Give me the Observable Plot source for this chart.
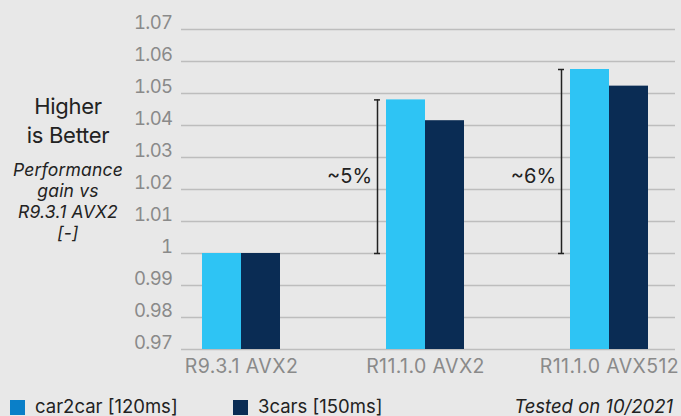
<!DOCTYPE html>
<html>
<head>
<meta charset="utf-8">
<script src="https://cdn.jsdelivr.net/npm/d3@7"></script>
<script src="https://cdn.jsdelivr.net/npm/@observablehq/plot@0.6"></script>
<style>
  html, body { margin: 0; padding: 0; background: #e8e8e8; }
  #wrap { position: relative; width: 681px; height: 416px; overflow: hidden; font-family: Inter, "Noto Sans", sans-serif; background: #e8e8e8; }
  #chart { position: absolute; left: 0; top: 0; }
  .side { position: absolute; left: 0; width: 136px; text-align: center; color: #222; white-space: nowrap; }
  .big { font-size: 22px; line-height: 29px; top: 92px; letter-spacing: -0.3px; }
  .ital { font-style: italic; font-size: 17.5px; line-height: 21px; top: 159px; letter-spacing: 0.2px; }
  .legend { position: absolute; top: 396px; font-size: 18.5px; line-height: 21px; color: #222; letter-spacing: 0px; white-space: nowrap; }
  .sw { display: inline-block; width: 15px; height: 15px; vertical-align: -2px; margin-right: 10px; }
</style>
</head>
<body>
<div id="wrap">
  <div id="chart"></div>
  <div class="side big">Higher<br>is Better</div>
  <div class="side ital">Performance<br>gain vs<br>R9.3.1 AVX2<br>[-]</div>
  <div class="legend" style="left:10px"><span class="sw" style="background:#0a7fc8"></span>car2car [120ms]</div>
  <div class="legend" style="left:233px"><span class="sw" style="background:#0a2c54"></span>3cars [150ms]</div>
  <div class="legend" style="right:8px; font-style:italic">Tested on 10/2021</div>
</div>
<script>
const categories = ["R9.3.1 AVX2", "R11.1.0 AVX2", "R11.1.0 AVX512"];
const car2car = [1.000, 1.048, 1.0575];
const cars3 = [1.000, 1.0415, 1.0523];
const yTicks = [0.97, 0.98, 0.99, 1, 1.01, 1.02, 1.03, 1.04, 1.05, 1.06, 1.07];
const gainLabels = [null, "~5%", "~6%"];
const labelY = 1.024;

const rowsA = categories.map((c, i) => ({cat: c, v: car2car[i]}));
const rowsB = categories.map((c, i) => ({cat: c, v: cars3[i]}));
const ann = categories.map((c, i) => ({cat: c, v: car2car[i], label: gainLabels[i]})).filter(d => d.label);

const chart = Plot.plot({
  width: 681,
  height: 385,
  marginLeft: 181,
  marginRight: 6,
  marginTop: 29,
  marginBottom: 36,
  style: {background: "transparent", fontFamily: "Inter, 'Noto Sans', sans-serif", overflow: "visible"},
  x: {domain: categories, range: [149, 701], padding: 0},
  y: {domain: [0.97, 1.07]},
  marks: [
    Plot.ruleY(yTicks, {stroke: "#bdbdbd", strokeWidth: 1.5}),
    Plot.barY(rowsA, {x: "cat", y1: 0.97, y2: "v", fill: "#2ec4f4", insetLeft: 53, insetRight: 92}),
    Plot.barY(rowsB, {x: "cat", y1: 0.97, y2: "v", fill: "#0a2c54", insetLeft: 92, insetRight: 53}),
    Plot.ruleX(ann, {x: "cat", y1: 1, y2: "v", stroke: "#222", strokeWidth: 1.5, dx: -48}),
    Plot.tickY(ann, {x: "cat", y: "v", stroke: "#222", strokeWidth: 1.5, insetLeft: 41, insetRight: 137}),
    Plot.tickY(ann, {x: "cat", y: 1, stroke: "#222", strokeWidth: 1.5, insetLeft: 41, insetRight: 137}),
    Plot.text(ann, {x: "cat", y: labelY, text: "label", dx: -76, fontSize: 20, fill: "#222", textAnchor: "middle"}),
    Plot.axisY(yTicks, {ticks: yTicks, tickSize: 0, tickPadding: 9, tickFormat: d => String(d), fontSize: 18.5, fill: "#8a8a8a", dy: -6, label: null}),
    Plot.axisX({tickSize: 0, tickPadding: 10, fontSize: 19.5, fill: "#8a8a8a", label: null})
  ]
});
chart.querySelectorAll("g[aria-label='y-axis tick label'] text").forEach(t => t.setAttribute("letter-spacing", "-0.6"));
chart.querySelectorAll("g[aria-label='x-axis tick label'] text").forEach(t => t.setAttribute("letter-spacing", "0.4"));
document.getElementById("chart").appendChild(chart);
</script>
</body>
</html>
